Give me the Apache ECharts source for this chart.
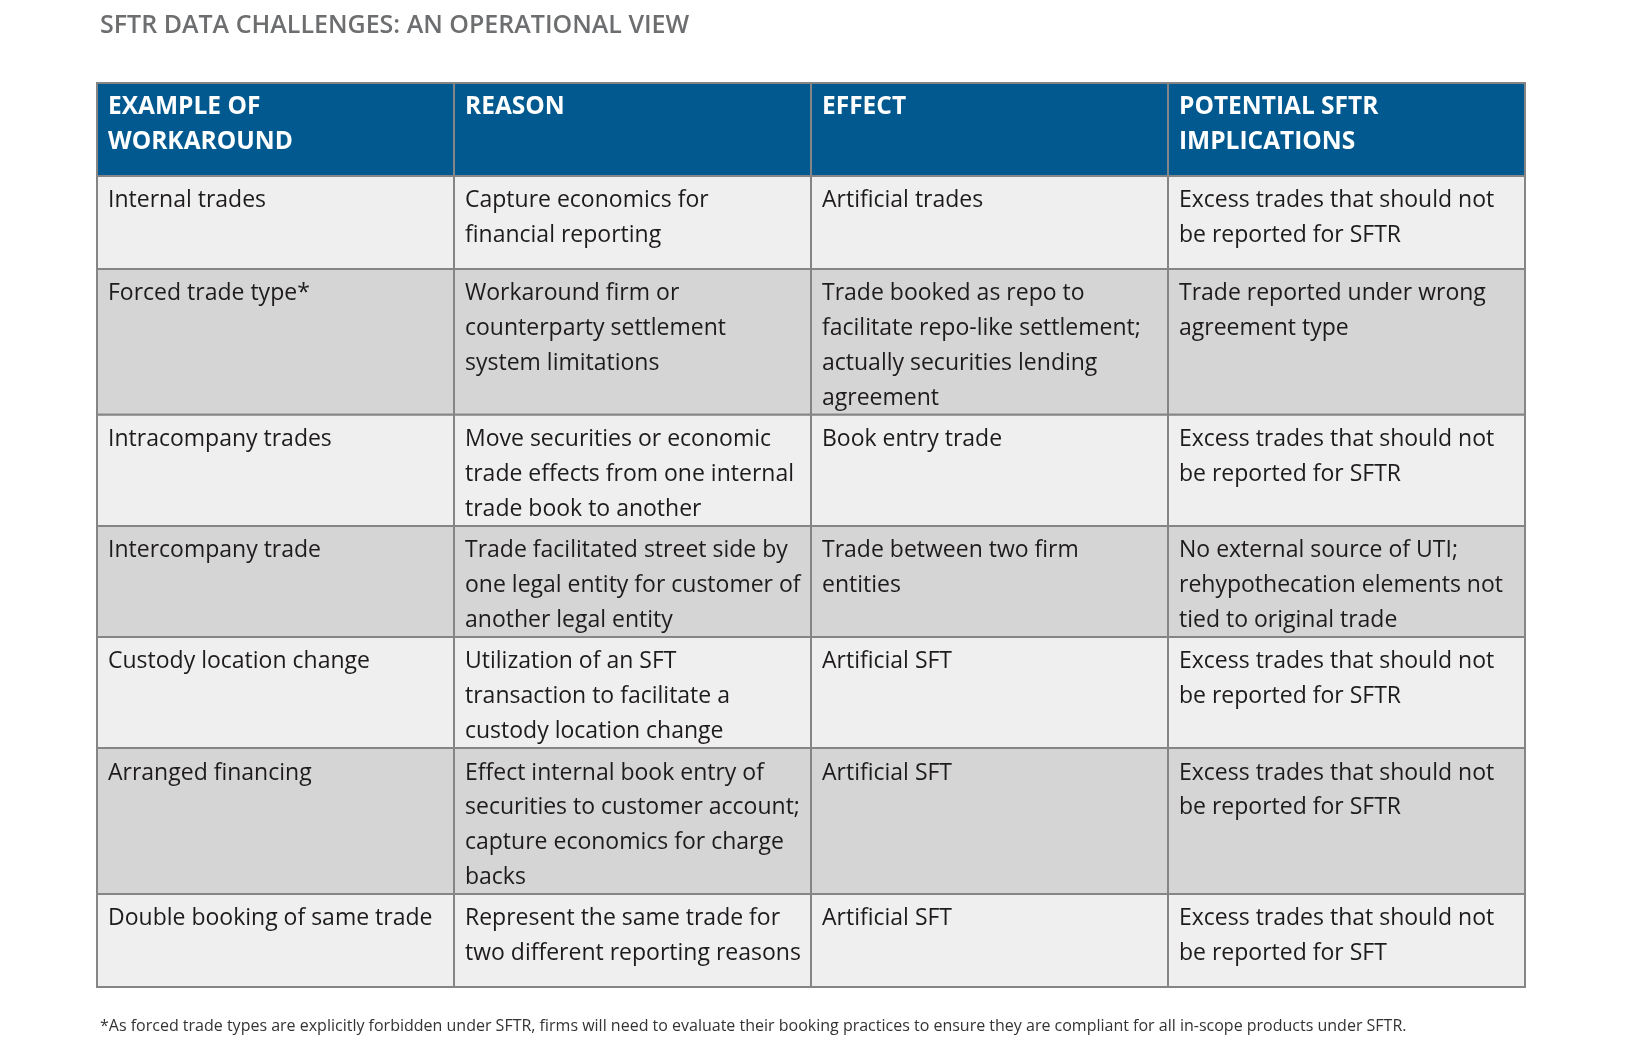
<!DOCTYPE html>
<html><head><meta charset="utf-8">
<script src="https://cdn.jsdelivr.net/npm/echarts@6/dist/echarts.min.js"></script>
<style>html,body{margin:0;padding:0;background:#fff}#c{width:1630px;height:1052px}</style>
</head><body><div id="c"></div>
<script>
const title = 'SFTR DATA CHALLENGES: AN OPERATIONAL VIEW';
const headers = ['EXAMPLE OF\nWORKAROUND', 'REASON', 'EFFECT', 'POTENTIAL SFTR\nIMPLICATIONS'];
const workaround = ['Internal trades', 'Forced trade type*', 'Intracompany trades', 'Intercompany trade', 'Custody location change', 'Arranged financing', 'Double booking of same trade'];
const reason = ['Capture economics for\nfinancial reporting', 'Workaround firm or\ncounterparty settlement\nsystem limitations', 'Move securities or economic\ntrade effects from one internal\ntrade book to another', 'Trade facilitated street side by\none legal entity for customer of\nanother legal entity', 'Utilization of an SFT\ntransaction to facilitate a\ncustody location change', 'Effect internal book entry of\nsecurities to customer account;\ncapture economics for charge\nbacks', 'Represent the same trade for\ntwo different reporting reasons'];
const effect = ['Artificial trades', 'Trade booked as repo to\nfacilitate repo-like settlement;\nactually securities lending\nagreement', 'Book entry trade', 'Trade between two firm\nentities', 'Artificial SFT', 'Artificial SFT', 'Artificial SFT'];
const implications = ['Excess trades that should not\nbe reported for SFTR', 'Trade reported under wrong\nagreement type', 'Excess trades that should not\nbe reported for SFTR', 'No external source of UTI;\nrehypothecation elements not\ntied to original trade', 'Excess trades that should not\nbe reported for SFTR', 'Excess trades that should not\nbe reported for SFTR', 'Excess trades that should not\nbe reported for SFT'];
const footnote = '*As forced trade types are explicitly forbidden under SFTR, firms will need to evaluate their booking practices to ensure they are compliant for all in-scope products under SFTR.';

// layout / style constants
const LINE_H = 34.7, PAD = 7, MIN_H = 93;
const FONT = '"Open Sans", "Noto Sans", sans-serif';
const HEADER_BG = '#02598f', ROW_LIGHT = '#f0eff0', ROW_DARK = '#d6d5d6', BORDER = '#858585', TEXT = '#1e1b1c';

const rows = [headers];
for (let i = 0; i < workaround.length; i++) rows.push([workaround[i], reason[i], effect[i], implications[i]]);

// row boundaries (in y-axis units) from the number of text lines
const bounds = [0];
rows.forEach(r => {
  const lines = Math.max.apply(null, r.map(t => t.split('\n').length));
  bounds.push(bounds[bounds.length - 1] + Math.max(lines * LINE_H + PAD, MIN_H));
});
const total = bounds[bounds.length - 1];

const cells = [];
rows.forEach((r, ri) => r.forEach((t, ci) => cells.push([ci, bounds[ri], bounds[ri + 1], ri])));

const chart = echarts.init(document.getElementById('c'), null, {renderer: 'canvas'});
chart.setOption({
  animation: false,
  backgroundColor: '#ffffff',
  title: [
    {text: title, left: 95, top: 6, textStyle: {fontFamily: FONT, fontSize: 25, fontWeight: 600, color: '#6d6e70', lineHeight: 30}},
    {text: footnote, left: 95, top: 1011, textStyle: {fontFamily: FONT, fontSize: 16, fontWeight: 400, color: '#333333', lineHeight: 20}}
  ],
  grid: {left: 97, top: 83, width: 1428, height: total},
  xAxis: {type: 'value', min: 0, max: 4, show: false},
  yAxis: {type: 'value', min: 0, max: total, inverse: true, show: false},
  series: [{
    type: 'custom',
    data: cells,
    encode: {x: 0, y: [1, 2]},
    renderItem: function (params, api) {
      const ci = api.value(0), ri = api.value(3);
      const p0 = api.coord([ci, api.value(1)]);
      const p1 = api.coord([ci + 1, api.value(2)]);
      const isHeader = ri === 0;
      const fill = isHeader ? HEADER_BG : (ri % 2 === 1 ? ROW_LIGHT : ROW_DARK);
      return {
        type: 'group',
        children: [
          {type: 'rect', shape: {x: p0[0], y: p0[1], width: p1[0] - p0[0], height: p1[1] - p0[1]},
           style: {fill: fill, stroke: BORDER, lineWidth: 2}},
          {type: 'text', style: {
            text: rows[ri][ci], x: p0[0] + 11, y: p0[1] + (isHeader ? 6.5 : 7.6),
            align: 'left', verticalAlign: 'top',
            fill: isHeader ? '#ffffff' : TEXT,
            fontFamily: FONT, fontSize: isHeader ? 24.5 : 23, fontWeight: isHeader ? 700 : 400,
            lineHeight: LINE_H
          }}
        ]
      };
    }
  }]
});
</script>
</body></html>
